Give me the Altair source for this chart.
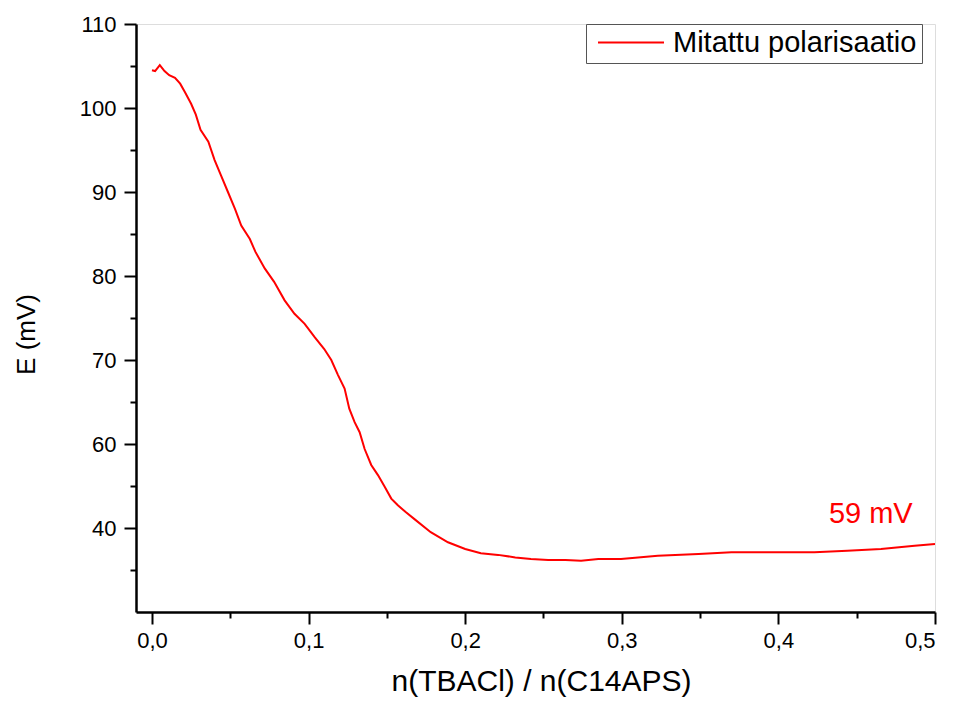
import altair as alt
import pandas as pd

# Measured polarisation curve (x = n(TBACl)/n(C14APS), E in mV)
x_vals = [0.000, 0.002, 0.005, 0.008, 0.011, 0.0147, 0.018, 0.021, 0.025, 0.028,
          0.031, 0.036, 0.040, 0.044, 0.0485, 0.053, 0.057, 0.0625, 0.066, 0.072,
          0.078, 0.0847, 0.091, 0.0975, 0.104, 0.110, 0.1145, 0.1188, 0.123, 0.126,
          0.1294, 0.1326, 0.1358, 0.140, 0.1443, 0.1486, 0.1528, 0.157, 0.162, 0.168,
          0.178, 0.189, 0.200, 0.210, 0.221, 0.232, 0.242, 0.253, 0.264, 0.274,
          0.285, 0.2995, 0.323, 0.349, 0.370, 0.395, 0.423, 0.444, 0.4655, 0.487, 0.500]
e_vals = [104.5, 104.4, 105.1, 104.4, 103.9, 103.6, 102.9, 101.9, 100.5, 99.2,
          97.4, 96.0, 93.8, 92.0, 90.0, 88.0, 86.0, 84.4, 82.9, 80.9,
          79.3, 77.1, 75.5, 74.3, 72.7, 71.3, 70.0, 68.2, 66.6, 64.2,
          62.6, 61.4, 59.4, 57.5, 56.3, 54.9, 53.5, 52.7, 51.9, 51.0,
          49.5, 48.3, 47.5, 47.0, 46.8, 46.5, 46.3, 46.2, 46.2, 46.1,
          46.3, 46.3, 46.7, 46.9, 47.1, 47.1, 47.1, 47.3, 47.5, 47.9, 48.1]

series_name = "Mitattu polarisaatio"
x_major = [0.0, 0.1, 0.2, 0.3, 0.4, 0.5]
x_minor = [0.05, 0.15, 0.25, 0.35, 0.45]
y_major = [50, 60, 70, 80, 90, 100, 110]
y_minor = [45, 55, 65, 75, 85, 95, 105]
annot_text = ["59 mV"]
annot_x = [0.459]
annot_y = [51.7]

df = pd.DataFrame({"x": x_vals, "E": e_vals, "s": [series_name] * len(x_vals)})
ann = pd.DataFrame({"x": annot_x, "E": annot_y, "t": annot_text})

FONT = "Liberation Sans"
xscale = alt.Scale(domain=[-0.0102, 0.5], nice=False, zero=False)
yscale = alt.Scale(domain=[40, 110], nice=False, zero=False)

common_axis = dict(domainColor="black", domainWidth=2.5, tickColor="black",
                   tickWidth=2, grid=False, labelFont=FONT, titleFont=FONT,
                   labelColor="black", titleColor="black")

line = alt.Chart(df).mark_line(color="red", strokeWidth=2).encode(
    x=alt.X("x:Q", scale=xscale,
            axis=alt.Axis(values=x_major, tickSize=12, labelFontSize=22,
                          labelExpr="replace(format(datum.value, '.1f'), '.', ',')",
                          labelPadding=6, title="n(TBACl) / n(C14APS)",
                          titleFontSize=30, titleFontWeight="normal",
                          titlePadding=15, titleX=405, orient="bottom", **common_axis)),
    y=alt.Y("E:Q", scale=yscale,
            axis=alt.Axis(values=y_major, tickSize=12, labelFontSize=22,
                          labelExpr="datum.value == 50 ? '40' : format(datum.value, 'd')",
                          labelPadding=8, title="E (mV)", titleFontSize=26,
                          titleFontWeight="normal", titlePadding=40, titleY=310,
                          orient="left", **common_axis)),
    color=alt.Color("s:N", scale=alt.Scale(domain=[series_name], range=["red"]),
                    legend=alt.Legend(title=None, orient="none", legendX=450, legendY=0,
                                      symbolType="stroke", symbolSize=4356,
                                      symbolStrokeWidth=2, labelFontSize=29,
                                      labelFont=FONT, labelColor="black",
                                      labelLimit=0, clipHeight=27,
                                      labelOffset=8, strokeColor="#555555",
                                      fillColor="white", padding=5,
                                      symbolOffset=6)),
)

minor = alt.Chart(df).mark_line(opacity=0).encode(
    x=alt.X("x:Q", scale=xscale,
            axis=alt.Axis(values=x_minor, tickSize=6, labels=False, domain=False,
                          title=None, orient="bottom", grid=False,
                          tickColor="black", tickWidth=2)),
    y=alt.Y("E:Q", scale=yscale,
            axis=alt.Axis(values=y_minor, tickSize=6, labels=False, domain=False,
                          title=None, orient="left", grid=False,
                          tickColor="black", tickWidth=2)),
)

text = alt.Chart(ann).mark_text(color="red", fontSize=29, font=FONT).encode(
    x=alt.X("x:Q", scale=xscale, axis=None),
    y=alt.Y("E:Q", scale=yscale, axis=None),
    text="t:N",
)

chart = alt.layer(line, minor, text).resolve_axis(
    x="independent", y="independent"
).properties(
    width=799, height=588,
    padding={"left": 5, "top": 5, "right": 5, "bottom": 5},
).configure_view(stroke=None).configure(background="white")

chart.save("out.html", embed_options={"renderer": "svg", "actions": False})
